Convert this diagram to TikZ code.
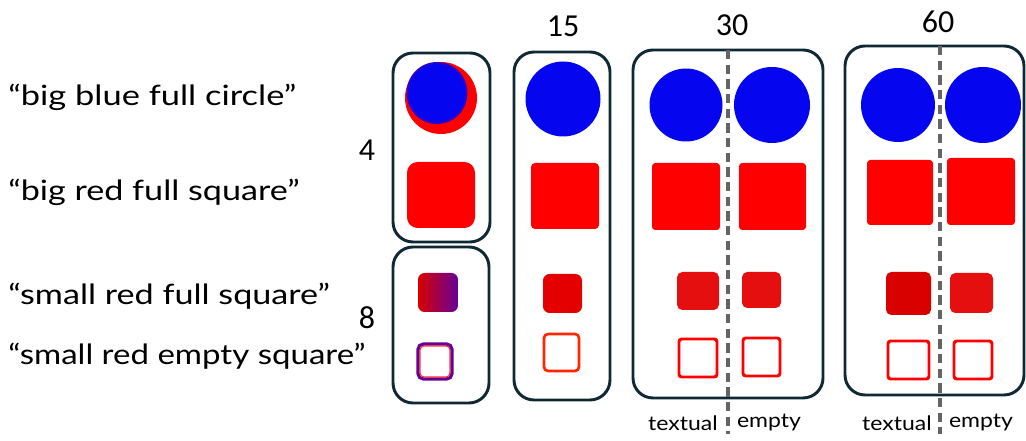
\documentclass[tikz,border=0pt]{standalone}
\usepackage{fontspec}
\setmainfont{Lato}
\newfontfamily\numfont{Carlito}
\definecolor{boxc}{RGB}{16,40,52}
\definecolor{sblue}{RGB}{5,5,240}
\definecolor{sred}{RGB}{255,0,0}
\definecolor{dred}{RGB}{230,15,15}
\definecolor{dashc}{RGB}{100,100,100}
\tikzset{
  frame/.style={draw=boxc, line width=2.2pt, rounded corners=15pt},
  sep/.style={draw=dashc, line width=2.4pt, dash pattern=on 7pt off 4pt},
  bigsq/.style={fill=sred, rounded corners=2.5pt},
  smallsq/.style={fill=dred, rounded corners=4pt},
  emptysq/.style={draw=sred, line width=2.2pt, rounded corners=2pt},
  lab/.style={anchor=west, inner sep=0pt, font=\fontsize{21}{24}\selectfont},
  num/.style={inner sep=0pt, font=\numfont\fontsize{24}{28}\selectfont},
  sub/.style={inner sep=0pt, font=\fontsize{15}{18}\selectfont}
}
\begin{document}
\begin{tikzpicture}[x=0.75pt,y=-0.75pt]
\useasboundingbox (0,0) rectangle (1026,441);
\fill[white] (0,0) rectangle (1026,441);
% left labels
\node[lab] (l1) at (8,97) {\scalebox{1.23}[1]{“big blue full circle”}};
\node[lab] (l2) at (8,192) {\scalebox{1.22}[1]{“big red full square”}};
\node[lab] (l3) at (8,296) {\scalebox{1.22}[1]{“small red full square”}};
\node[lab] (l4) at (8,356) {\scalebox{1.18}[1]{“small red empty square”}};
% numbers
\node[num] (n4) at (367,150) {4};
\node[num] (n8) at (367,318) {8};
\node[num] (n15) at (563,26) {15};
\node[num] (n30) at (732,25) {30};
\node[num] (n60) at (938,22) {60};
% box 4
\draw[frame] (393,53) rectangle (490,242);
\fill[sred] (441,98) circle (36);
\fill[sblue!85!red] (437,93) ellipse (30.5 and 31);
\fill[sblue] (437,93) ellipse (28.5 and 29);
\fill[sred, rounded corners=8pt] (407,162) rectangle (475,228);
% box 8
\draw[frame] (393,247) rectangle (489,403);
\shade[left color=red!85!black, right color=violet!80!blue, rounded corners=5pt] (418,273) rectangle (458,312);
\draw[draw=blue!60!red, line width=2.4pt, rounded corners=4pt] (418,344) rectangle (452,379);
\draw[draw=red!80!white, line width=0.8pt, rounded corners=3pt] (420,346) rectangle (450,377);
% box 15
\draw[frame] (514,52) rectangle (610,400);
\fill[sblue] (563,99) circle (37.5);
\fill[sred, rounded corners=3pt] (531,163) rectangle (599,229);
\fill[sred!90!black, rounded corners=5pt] (543,274) rectangle (582,313);
\draw[draw=orange!30!red, line width=2pt, rounded corners=3pt] (544,334) rectangle (579,371);
% box 30
\draw[frame] (633,50) rectangle (823,398);
\fill[sblue] (686,105) circle (36.5);
\fill[sblue] (772,105) circle (38);
\fill[bigsq] (652,163) rectangle (720,230);
\fill[bigsq] (739,163) rectangle (806,230);
\fill[smallsq] (677,272) rectangle (719,310);
\fill[smallsq] (742,272) rectangle (781,308);
\draw[emptysq] (679,339) rectangle (717,377);
\draw[emptysq] (743,338) rectangle (780,376);
\draw[sep] (728,50) -- (728,434);
% box 60
\draw[frame] (845,46) rectangle (1024,395);
\fill[sblue] (898,105) circle (37);
\fill[sblue] (983,105) circle (38);
\fill[bigsq] (867,160) rectangle (933,225);
\fill[bigsq] (947,158) rectangle (1015,225);
\fill[smallsq, fill=red!85!black] (886,272) rectangle (931,315);
\fill[smallsq] (950,273) rectangle (993,313);
\draw[emptysq] (888,341) rectangle (929,379);
\draw[emptysq] (954,341) rectangle (992,379);
\draw[sep] (940,46) -- (940,434);
% sublabels
\node[sub] (t30) at (683,423) {\scalebox{1.15}[1]{textual}};
\node[sub] (e30) at (769,423) {\scalebox{1.15}[1]{empty}};
\node[sub] (t60) at (897,423) {\scalebox{1.15}[1]{textual}};
\node[sub] (e60) at (981,423) {\scalebox{1.15}[1]{empty}};
\end{tikzpicture}
\end{document}
